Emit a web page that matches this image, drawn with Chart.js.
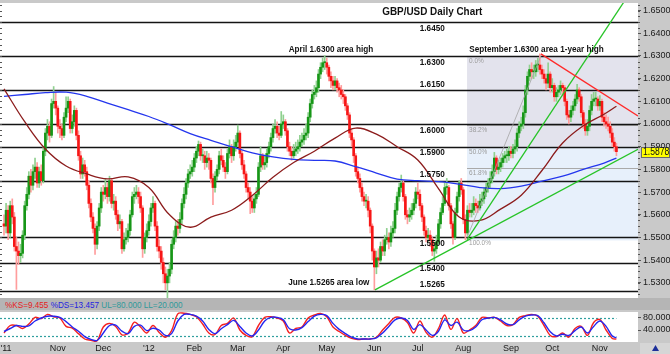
<!DOCTYPE html>
<html>
<head>
<meta charset="utf-8">
<title>GBP/USD Daily Chart</title>
<script src="https://cdn.jsdelivr.net/npm/chart.js@4.4.1/dist/chart.umd.min.js"></script>
<style>
    html, body { margin: 0; padding: 0; }
    body {
        width: 670px; height: 354px; position: relative; overflow: hidden;
        background: #c9c9c9; font-family: "Liberation Sans", Arial, sans-serif;
    }
    #priceChart { position: absolute; left: 0; top: 3px; }
    #band { position: absolute; left: 0; top: 298px; width: 670px; height: 12px; background: #b5b5b5; }
    #band .txt {
        position: absolute; left: 5px; top: 1px; font-size: 9.5px; white-space: nowrap;
        transform: scaleX(0.86); transform-origin: 0 0;
    }
    #stochChart { position: absolute; left: 0; top: 310px; }
</style>
</head>
<body>
<canvas id="priceChart" width="670" height="295"></canvas>
<div id="band"><span class="txt" id="bandTxt"></span></div>
<canvas id="stochChart" width="670" height="44"></canvas>

<script>
/* -------------------- DADOS -------------------- */
// precos em pips: 5550 -> 1.5550 ; barra 0 = 26 set 2011, barra 296 = 13 nov 2012
const opens = [
    5560,5550,5620,5520,5640,5590,5460,5440,5420,5430,5510,5640,5690,5770,5730,5790,5810,5740,5790,5750,
    5880,5960,5990,5950,6090,6100,6070,5990,5980,5950,6030,6070,6100,5980,6010,6060,5950,5860,5780,5820,
    5790,5730,5650,5590,5540,5470,5550,5630,5700,5690,5720,5680,5750,5650,5660,5600,5560,5570,5450,5490,
    5500,5530,5600,5680,5690,5700,5680,5630,5450,5500,5530,5570,5630,5650,5550,5460,5440,5390,5340,5300,
    5330,5360,5470,5500,5550,5540,5580,5650,5690,5740,5780,5790,5810,5850,5880,5910,5860,5860,5830,5850,
    5840,5760,5720,5770,5800,5860,5840,5810,5790,5870,5900,5860,5900,5920,5960,5870,5820,5780,5720,5700,
    5660,5630,5670,5690,5810,5860,5820,5830,5870,5900,5940,5980,5990,5960,5950,6000,6010,5970,5900,5880,
    5860,5880,5890,5900,5920,5930,5950,5960,6030,6090,6130,6140,6160,6220,6250,6270,6270,6250,6210,6190,
    6170,6190,6160,6150,6130,6120,6080,6040,5960,5930,5860,5790,5760,5720,5680,5660,5660,5620,5550,5440,
    5370,5410,5400,5460,5440,5490,5500,5480,5520,5540,5620,5680,5720,5740,5680,5600,5590,5600,5620,5650,
    5700,5690,5640,5590,5530,5500,5510,5490,5440,5450,5480,5560,5610,5650,5720,5720,5640,5560,5500,5610,
    5680,5740,5710,5580,5520,5620,5610,5620,5650,5640,5630,5660,5670,5700,5720,5740,5760,5790,5850,5800,
    5810,5830,5850,5860,5860,5880,5870,5890,5900,5960,5990,6000,6050,6150,6210,6240,6230,6230,6260,6260,
    6240,6220,6200,6180,6220,6160,6170,6120,6140,6150,6170,6160,6100,6040,6030,6060,6080,6110,6150,6120,
    6050,6000,5970,5990,6060,6100,6110,6110,6080,6100,6030,6010,6000,5990,5960,5920,5900
];
const highs = [
    5600,5650,5640,5660,5670,5610,5500,5480,5470,5530,5660,5720,5790,5800,5820,5850,5830,5810,5820,5900,
    5980,6020,6010,6110,6165,6140,6080,6020,6000,6050,6120,6120,6110,6040,6080,6070,5970,5880,5850,5840,
    5810,5750,5670,5610,5560,5570,5650,5720,5730,5760,5740,5770,5760,5690,5680,5620,5600,5580,5520,5540,
    5560,5620,5700,5720,5730,5720,5700,5640,5520,5560,5600,5650,5680,5660,5570,5490,5460,5410,5370,5360,
    5390,5490,5530,5570,5580,5610,5670,5720,5760,5800,5820,5840,5870,5900,5925,5920,5890,5880,5880,5870,
    5850,5780,5790,5820,5880,5890,5860,5830,5890,5930,5910,5930,5950,5995,5970,5880,5840,5790,5740,5720,
    5680,5690,5720,5830,5900,5870,5860,5890,5920,5960,6000,6020,6010,5990,6055,6040,6020,5980,5920,5900,
    5910,5920,5930,5950,5960,5980,6000,6050,6110,6150,6170,6190,6240,6270,6290,6301,6290,6260,6230,6210,
    6210,6200,6180,6170,6150,6130,6090,6050,5980,5940,5870,5810,5780,5740,5700,5690,5680,5630,5560,5450,
    5440,5450,5480,5490,5510,5540,5520,5550,5570,5650,5700,5740,5775,5750,5690,5620,5630,5650,5670,5720,
    5740,5710,5650,5600,5550,5540,5530,5500,5480,5510,5580,5630,5680,5740,5760,5730,5650,5570,5630,5700,
    5750,5760,5720,5600,5640,5650,5650,5680,5670,5660,5690,5700,5720,5740,5760,5790,5820,5875,5860,5840,
    5850,5870,5880,5890,5900,5900,5910,5930,5980,6010,6030,6080,6170,6230,6260,6270,6260,6280,6290,6309,
    6260,6240,6220,6270,6230,6200,6180,6160,6170,6190,6180,6170,6110,6060,6080,6100,6130,6175,6160,6130,
    6060,6020,6020,6080,6130,6140,6140,6120,6125,6110,6050,6040,6030,6010,5980,5940,5915
];
const lows = [
    5510,5520,5490,5500,5560,5440,5271,5380,5390,5410,5490,5620,5670,5700,5710,5760,5720,5720,5730,5740,
    5860,5930,5920,5940,6070,6040,5960,5940,5930,5940,6010,6050,5960,5960,5990,5930,5840,5760,5760,5770,
    5710,5630,5570,5520,5425,5450,5530,5610,5660,5670,5650,5660,5630,5620,5580,5530,5540,5430,5440,5470,
    5480,5510,5590,5650,5670,5650,5610,5412,5430,5480,5510,5550,5610,5530,5440,5410,5360,5300,5270,5234,
    5300,5340,5450,5480,5510,5520,5560,5630,5670,5720,5760,5770,5790,5830,5860,5840,5830,5800,5810,5800,
    5740,5645,5700,5750,5780,5820,5790,5760,5780,5850,5830,5840,5880,5900,5850,5800,5760,5700,5670,5605,
    5610,5610,5650,5680,5790,5800,5800,5810,5850,5880,5920,5960,5940,5930,5940,5980,5950,5880,5860,5840,
    5850,5860,5870,5880,5900,5910,5930,5940,6010,6070,6110,6120,6140,6200,6230,6240,6220,6190,6160,6150,
    6150,6140,6120,6110,6090,6060,6020,5940,5900,5830,5770,5740,5700,5660,5640,5630,5590,5520,5400,5269,
    5340,5370,5390,5420,5420,5470,5450,5460,5500,5520,5600,5660,5700,5660,5580,5560,5570,5580,5600,5630,
    5670,5620,5570,5510,5480,5480,5460,5420,5395,5430,5470,5540,5600,5640,5690,5620,5540,5470,5490,5600,
    5660,5690,5560,5490,5510,5590,5590,5600,5610,5610,5620,5640,5650,5680,5700,5720,5740,5770,5780,5780,
    5790,5810,5830,5830,5840,5850,5850,5870,5880,5940,5970,5980,6030,6130,6190,6200,6200,6210,6230,6220,
    6200,6180,6150,6160,6140,6140,6100,6100,6120,6130,6130,6080,6020,6000,6010,6040,6060,6090,6100,6030,
    5980,5950,5950,5970,6040,6080,6080,6060,6060,6010,5990,5980,5970,5940,5900,5880,5860
];
const closes = [
    5550,5620,5520,5640,5590,5460,5440,5420,5430,5510,5640,5690,5770,5730,5790,5810,5740,5790,5750,5880,
    5960,5990,5950,6090,6100,6070,5990,5980,5950,6030,6070,6100,5980,6010,6060,5950,5860,5780,5820,5790,
    5730,5650,5590,5540,5470,5550,5630,5700,5690,5720,5680,5750,5650,5660,5600,5560,5570,5450,5490,5500,
    5530,5600,5680,5690,5700,5680,5630,5450,5500,5530,5570,5630,5650,5550,5460,5440,5390,5340,5300,5330,
    5360,5470,5500,5550,5540,5580,5650,5690,5740,5780,5790,5810,5850,5880,5910,5860,5860,5830,5850,5840,
    5760,5720,5770,5800,5860,5840,5810,5790,5870,5900,5860,5900,5920,5960,5870,5820,5780,5720,5700,5660,
    5630,5670,5690,5810,5860,5820,5830,5870,5900,5940,5980,5990,5960,5950,6000,6010,5970,5900,5880,5860,
    5880,5890,5900,5920,5930,5950,5960,6030,6090,6130,6140,6160,6220,6250,6270,6270,6250,6210,6190,6170,
    6190,6160,6150,6130,6120,6080,6040,5960,5930,5860,5790,5760,5720,5680,5660,5660,5620,5550,5440,5370,
    5410,5400,5460,5440,5490,5500,5480,5520,5540,5620,5680,5720,5740,5680,5600,5590,5600,5620,5650,5700,
    5690,5640,5590,5530,5500,5510,5490,5440,5450,5480,5560,5610,5650,5720,5720,5640,5560,5500,5610,5680,
    5740,5710,5580,5520,5620,5610,5620,5650,5640,5630,5660,5670,5700,5720,5740,5760,5790,5850,5800,5810,
    5830,5850,5860,5860,5880,5870,5890,5900,5960,5990,6000,6050,6150,6210,6240,6230,6230,6260,6260,6240,
    6220,6200,6180,6220,6160,6170,6120,6140,6150,6170,6160,6100,6040,6030,6060,6080,6110,6150,6120,6050,
    6000,5970,5990,6060,6100,6110,6110,6080,6100,6030,6010,6000,5990,5960,5920,5900,5878
];

// medias moveis (a cada 10 barras)
const maBars = [0,10,20,30,40,50,60,70,80,90,100,110,120,130,140,150,160,170,180,190,200,210,220,230,240,250,260,270,280,290,296];
const sma50 = [6155,6010,5890,5815,5780,5758,5767,5720,5600,5545,5590,5620,5685,5765,5830,5880,5938,5982,5955,5900,5841,5715,5590,5575,5625,5686,5795,5916,5992,6043,6078];
const sma200 = [6122,6130,6138,6140,6122,6092,6063,6033,5997,5958,5928,5900,5873,5855,5844,5840,5837,5812,5784,5757,5750,5746,5735,5720,5715,5726,5748,5770,5800,5828,5850];

// estocastico (a cada 3 barras)
const stochBars = [0,3,6,9,12,15,18,21,24,27,30,33,36,39,42,45,48,51,54,57,60,63,66,69,72,75,78,81,84,87,
    90,93,96,99,102,105,108,111,114,117,120,123,126,129,132,135,138,141,144,147,150,153,156,159,162,165,168,171,174,177,
    180,183,186,189,192,195,198,201,204,207,210,213,216,219,222,225,228,231,234,237,240,243,246,249,252,255,258,261,264,267,
    270,273,276,279,282,285,288,291,294,296];
const stochK = [30,55,55,45,60,82,78,92,84,80, 52,46,28,10,6,4,50,62,52,24, 30,66,50,30,55,32,16,38,94,96,
    92,84,60,30,25,55,62,80,40,22, 18,55,82,84,80,70,30,45,50,80, 90,95,84,50,35,22,12,8,10,10,
    16,40,62,82,80,65,30,70,32,16, 45,90,42,78,30,40,55,82,80,82, 70,55,58,82,88,92,86,55,22,18,
    30,16,45,52,22,65,75,40,12,9.455];
const stochD = [35,45,55,52,54,70,80,86,86,82, 68,50,36,18,9,5,30,55,56,36, 28,52,56,38,46,40,22,28,70,92,
    92,86,70,42,28,44,58,72,52,30, 20,40,70,82,82,74,44,40,48,68, 86,92,88,62,42,28,16,10,10,10,
    14,30,52,74,80,72,42,58,40,22, 36,74,55,66,40,38,50,74,80,82, 74,60,58,74,86,90,88,64,34,20,
    26,22,38,50,30,52,70,52,20,13.457];
const stochUpper = 80, stochLower = 20;

// eixos
const priceTicks = [1.53,1.54,1.55,1.56,1.57,1.58,1.59,1.60,1.61,1.62,1.63,1.64,1.65];
const stochTicks = [40, 80];
const monthTicks = [1,26,48,70,92,113,135,156,179,200,222,245,265,288];
const monthLabels = ["'11","Nov","Dec","'12","Feb","Mar","Apr","May","Jun","Jul","Aug","Sep","Oct","Nov"];

// niveis horizontais
const levels = [1.6450,1.6300,1.6150,1.6000,1.5900,1.5750,1.5500,1.5388,1.5265];
const levelLabels = ['1.6450','1.6300','1.6150','1.6000','1.5900','1.5750','1.5500','1.5400','1.5265'];

// fibonacci (minima 2 ago -> maxima 21 set)
const fibLow = 1.5500, fibHigh = 1.6300, fibFromBar = 223.8, fibToBar = 259.5;
const fibPcts = [0, 38.2, 50, 61.8, 100];

// linhas de tendencia [barra, preco]
const supportLong = [[179.3,1.5269],[306.4,1.5888]];
const supportSteep = [[223.8,1.5490],[300.2,1.6546]];
const resistance = [[259.5,1.6309],[306.4,1.6035]];

const lastPrice = 1.5878;

/* -------------------- UTILIDADES -------------------- */
const FONT = '"Liberation Sans", Arial, sans-serif';
const px = v => 1 + v / 10000;
const xMin = -1.933, xMax = 306.43;

function texto(ctx, t, x, y, size, bold, color, align) {
    ctx.save();
    ctx.font = (bold ? 'bold ' : '') + size + 'px ' + FONT;
    ctx.fillStyle = color;
    ctx.textBaseline = 'middle';
    ctx.textAlign = align || 'center';
    ctx.translate(x, y);
    ctx.scale(0.86, 1);
    ctx.fillText(t, 0, 0);
    ctx.restore();
}

function linhaTendencia(pts, color, width) {
    return {
        type: 'line', data: pts.map(p => ({ x: p[0], y: p[1] })),
        borderColor: color, borderWidth: width, pointRadius: 0, order: 1
    };
}

/* -------------------- GRAFICO DE PRECO -------------------- */
const decorPreco = {
    id: 'decorPreco',
    beforeDraw(chart) {
        const { ctx, chartArea: a } = chart;
        ctx.save();
        ctx.fillStyle = '#c9c9c9';
        ctx.fillRect(0, 0, chart.width, chart.height);
        ctx.fillStyle = '#ffffff';
        ctx.fillRect(a.left, a.top, a.right - a.left, a.bottom - a.top);
        ctx.restore();
    },
    beforeDatasetsDraw(chart) {
        const { ctx, chartArea: a, scales: { x, y } } = chart;
        const fx = x.getPixelForValue(fibFromBar);
        const fy = pct => y.getPixelForValue(fibHigh - (fibHigh - fibLow) * pct / 100);
        ctx.save();
        ctx.fillStyle = '#e3e3ed';
        ctx.fillRect(fx, fy(0), a.right - fx, fy(50) - fy(0));
        ctx.fillStyle = '#e7f0fb';
        ctx.fillRect(fx, fy(50), a.right - fx, fy(100) - fy(50) + 3);

        ctx.strokeStyle = '#a9a9a9';
        ctx.lineWidth = 1;
        fibPcts.forEach(p => {
            const yy = Math.round(fy(p)) + 0.5;
            ctx.beginPath(); ctx.moveTo(fx, yy); ctx.lineTo(a.right, yy); ctx.stroke();
        });

        ctx.strokeStyle = '#141414';
        ctx.lineWidth = 1.3;
        levels.forEach(v => {
            const yy = Math.round(y.getPixelForValue(v)) + 0.5;
            ctx.beginPath(); ctx.moveTo(a.left, yy); ctx.lineTo(a.right, yy); ctx.stroke();
        });

        // marcas pequenas na borda esquerda
        ctx.strokeStyle = '#555';
        ctx.lineWidth = 1;
        for (let k = 5250; k <= 6525; k += 25) {
            const yy = Math.round(y.getPixelForValue(px(k))) + 0.5;
            ctx.beginPath(); ctx.moveTo(a.left, yy); ctx.lineTo(a.left + 2, yy); ctx.stroke();
        }
        ctx.restore();
    },
    afterDatasetsDraw(chart) {
        const { ctx, scales: { x, y } } = chart;
        const cx = x.getPixelForValue(207);
        const acima = { '1.6150': true, '1.5750': true, '1.5265': true };

        texto(ctx, 'GBP/USD Daily Chart', cx, y.getPixelForValue(1.6493), 11.5, true, '#111');
        levels.forEach((v, i) => {
            const yy = y.getPixelForValue(v) + (acima[levelLabels[i]] ? -6 : 6);
            texto(ctx, levelLabels[i], cx, yy, 9.5, true, '#111');
        });

        texto(ctx, 'April 1.6300 area high', x.getPixelForValue(158), y.getPixelForValue(1.6330), 9.5, true, '#111');
        texto(ctx, 'September 1.6300 area 1-year high', x.getPixelForValue(257.4), y.getPixelForValue(1.6330), 9.5, true, '#111');
        texto(ctx, 'June 1.5265 area low', x.getPixelForValue(157), y.getPixelForValue(1.5300), 9.5, true, '#111');

        const fx = x.getPixelForValue(fibFromBar) + 2;
        fibPcts.forEach(p => {
            const yy = y.getPixelForValue(fibHigh - (fibHigh - fibLow) * p / 100) + 5;
            texto(ctx, p.toFixed(1) + '%', fx, yy, 7.5, false, '#9c9c9c', 'left');
        });
    },
    afterDraw(chart) {
        const { ctx, chartArea: a, scales: { y } } = chart;
        ctx.save();
        ctx.strokeStyle = '#555';
        ctx.lineWidth = 1;
        for (let k = 5250; k <= 6525; k += 25) {
            const yy = Math.round(y.getPixelForValue(px(k))) + 0.5;
            ctx.beginPath(); ctx.moveTo(a.right, yy); ctx.lineTo(a.right + 2, yy); ctx.stroke();
        }
        const yy = Math.round(y.getPixelForValue(lastPrice));
        ctx.fillStyle = '#ffff00';
        ctx.fillRect(a.right + 3, yy - 5, chart.width - a.right - 3, 11);
        ctx.strokeStyle = '#6a6a6a';
        ctx.strokeRect(a.right + 3.5, yy - 4.5, chart.width - a.right - 4, 10);
        ctx.restore();
        texto(ctx, lastPrice.toFixed(4), a.right + 5, yy + 0.5, 10, false, '#111', 'left');
    }
};

const barras = closes.map((c, i) => i);
const sobe = i => closes[i] >= opens[i];

new Chart(document.getElementById('priceChart'), {
    type: 'bar',
    data: {
        datasets: [
            linhaTendencia(resistance, '#ff2a2a', 1.3),
            linhaTendencia(supportLong, '#27c427', 1.3),
            linhaTendencia(supportSteep, '#27c427', 1.3),
            linhaTendencia([[fibFromBar, fibLow], [fibToBar, fibHigh]], '#a4a4a4', 0.8),
            {
                type: 'line', data: maBars.map((b, k) => ({ x: b, y: px(sma50[k]) })),
                borderColor: '#8c1c1c', borderWidth: 1.3, pointRadius: 0, tension: 0.4, order: 2
            },
            {
                type: 'line', data: maBars.map((b, k) => ({ x: b, y: px(sma200[k]) })),
                borderColor: '#2436ee', borderWidth: 1.3, pointRadius: 0, tension: 0.4, order: 2
            },
            {
                data: barras.map(i => ({ x: i, y: [px(opens[i]), px(closes[i])] })),
                backgroundColor: ctx => sobe(ctx.dataIndex) ? '#179617' : '#f71616',
                grouped: false, barPercentage: 1, categoryPercentage: 1, maxBarThickness: 2,
                minBarLength: 1, order: 5
            },
            {
                data: barras.map(i => ({ x: i, y: [px(lows[i]), px(highs[i])] })),
                backgroundColor: ctx => sobe(ctx.dataIndex) ? '#8fd08f' : '#ff9d9d',
                grouped: false, barPercentage: 1, categoryPercentage: 1, maxBarThickness: 1,
                order: 6
            }
        ]
    },
    options: {
        responsive: false, animation: false, events: [],
        layout: { padding: 0 },
        plugins: { legend: { display: false }, tooltip: { enabled: false } },
        scales: {
            x: { type: 'linear', min: xMin, max: xMax, display: false, offset: false },
            y: {
                position: 'right', min: 1.52332, max: 1.65332,
                afterBuildTicks: s => { s.ticks = priceTicks.map(v => ({ value: v })); },
                afterFit: s => { s.width = 32; s.paddingTop = 0; s.paddingBottom = 0; },
                ticks: { callback: v => v.toFixed(4), font: { size: 9, family: FONT }, color: '#1a1a1a', padding: 2, autoSkip: false },
                grid: { drawOnChartArea: false, drawTicks: true, tickLength: 3, color: '#555' },
                border: { display: false }
            }
        }
    },
    plugins: [decorPreco]
});

/* -------------------- ESTOCASTICO -------------------- */
document.getElementById('bandTxt').innerHTML =
    '<span style="color:#e52222">%KS=' + stochK[stochK.length - 1].toFixed(3) + '</span> ' +
    '<span style="color:#2424e0">%DS=' + stochD[stochD.length - 1].toFixed(3) + '</span> ' +
    '<span style="color:#2f9a9a">UL=' + stochUpper.toFixed(3) + ' LL=' + stochLower.toFixed(3) + '</span>';

const decorStoch = {
    id: 'decorStoch',
    beforeDraw(chart) {
        const { ctx, chartArea: a } = chart;
        ctx.save();
        ctx.fillStyle = '#c9c9c9';
        ctx.fillRect(0, 0, chart.width, chart.height);
        ctx.fillStyle = '#ffffff';
        ctx.fillRect(a.left, a.top, a.right - a.left, a.bottom - a.top);
        ctx.restore();
    },
    beforeDatasetsDraw(chart) {
        const { ctx, chartArea: a, scales: { x, y } } = chart;
        const xEnd = x.getPixelForValue(stochBars[stochBars.length - 1]);
        ctx.save();
        ctx.strokeStyle = '#2f9f9f';
        ctx.lineWidth = 1.2;
        ctx.setLineDash([2, 2]);
        [stochUpper, stochLower].forEach(v => {
            const yy = Math.round(y.getPixelForValue(v)) + 0.5;
            ctx.beginPath(); ctx.moveTo(a.left, yy); ctx.lineTo(xEnd, yy); ctx.stroke();
        });
        ctx.restore();
    },
    afterDraw(chart) {
        const { ctx, chartArea: a } = chart;
        ctx.save();
        ctx.fillStyle = '#d6d6d6';
        ctx.fillRect(a.right + 2, a.bottom + 1, chart.width - a.right - 2, chart.height - a.bottom - 1);
        ctx.fillStyle = '#1d2f9a';
        ctx.beginPath();
        ctx.moveTo(652, a.bottom + 9); ctx.lineTo(655.5, a.bottom + 3); ctx.lineTo(659, a.bottom + 9);
        ctx.closePath(); ctx.fill();
        ctx.restore();
    }
};

new Chart(document.getElementById('stochChart'), {
    type: 'line',
    data: {
        datasets: [
            {
                data: stochBars.map((b, k) => ({ x: b, y: stochD[k] })),
                borderColor: '#2626f0', borderWidth: 1.4, pointRadius: 0, tension: 0.35, order: 0
            },
            {
                data: stochBars.map((b, k) => ({ x: b, y: stochK[k] })),
                borderColor: '#f52020', borderWidth: 1.4, pointRadius: 0, tension: 0.35, order: 1
            }
        ]
    },
    options: {
        responsive: false, animation: false, events: [],
        layout: { padding: { top: 2 } },
        plugins: { legend: { display: false }, tooltip: { enabled: false } },
        scales: {
            x: {
                type: 'linear', min: xMin, max: xMax, offset: false,
                afterBuildTicks: s => { s.ticks = monthTicks.map(v => ({ value: v })); },
                afterFit: s => { s.height = 12; s.paddingLeft = 0; s.paddingRight = 0; },
                ticks: {
                    callback: (v, i) => monthLabels[i], autoSkip: false, maxRotation: 0,
                    font: { size: 9, family: FONT }, color: '#1a1a1a', padding: 1
                },
                grid: { display: false, drawTicks: false },
                border: { display: false }
            },
            y: {
                position: 'right', min: 0, max: 100,
                afterBuildTicks: s => { s.ticks = stochTicks.map(v => ({ value: v })); },
                afterFit: s => { s.width = 32; s.paddingTop = 0; s.paddingBottom = 0; },
                ticks: { callback: v => v.toFixed(3), font: { size: 9, family: FONT }, color: '#1a1a1a', padding: 2 },
                grid: { drawOnChartArea: false, drawTicks: true, tickLength: 3, color: '#555' },
                border: { display: false }
            }
        }
    },
    plugins: [decorStoch]
});
</script>
</body>
</html>
